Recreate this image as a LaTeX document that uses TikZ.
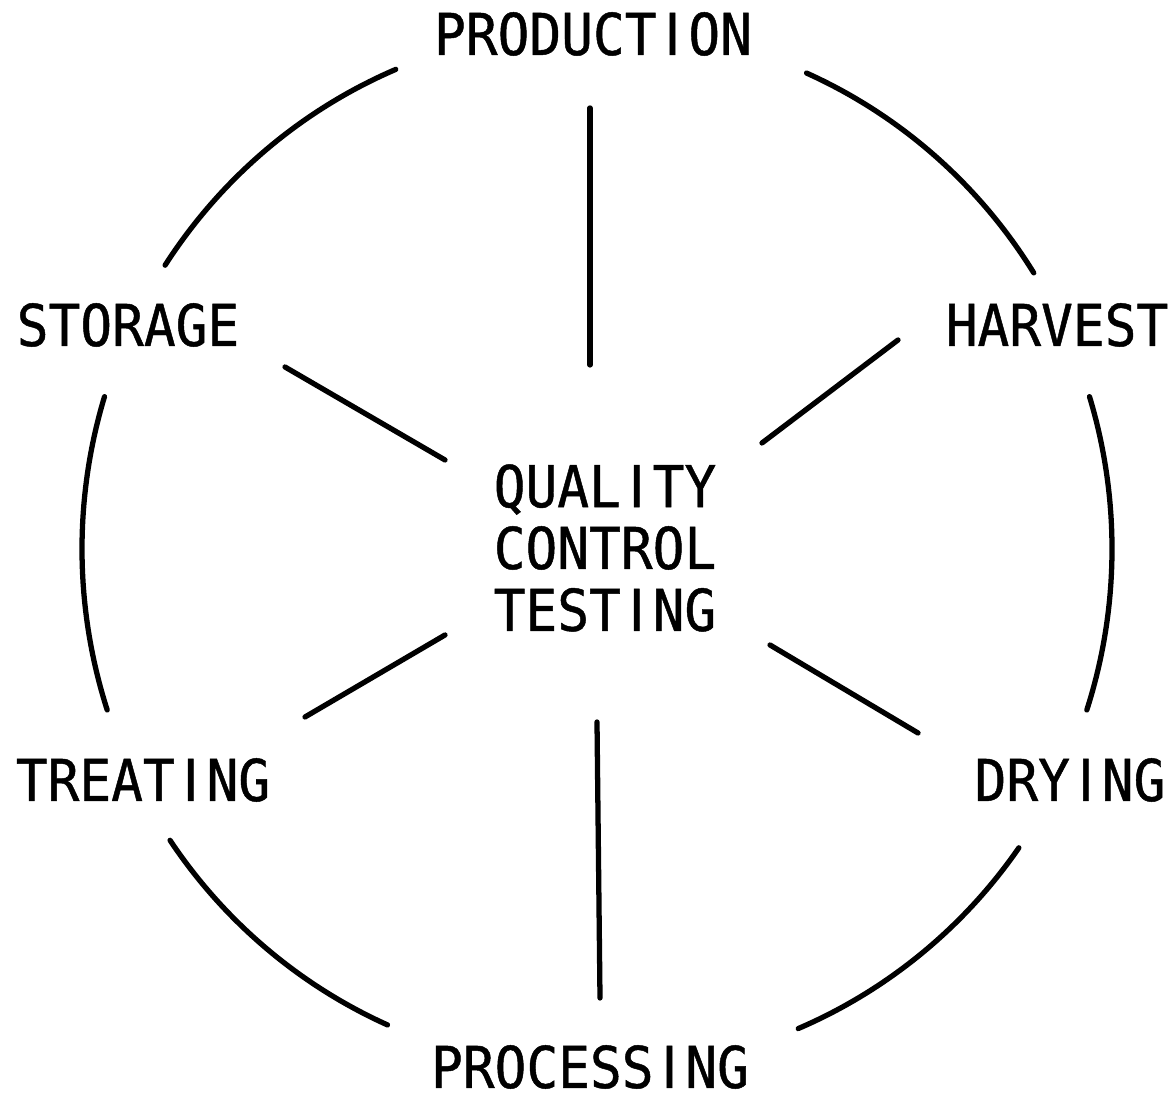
\documentclass[tikz,border=0pt]{standalone}
\usepackage{fontspec}
\newfontfamily\cyclefont[FakeStretch=0.916,FakeBold=0.8]{DejaVu Sans Mono}
\newfontfamily\barfont[FakeStretch=0.916,FakeBold=0.8]{DejaVu Sans}
\newcommand\barI{\makebox[\fontcharwd\font`M]{\barfont I}}
\begin{document}
\begin{tikzpicture}[
    stage/.style={font=\cyclefont\fontsize{16.4}{17.6}\selectfont, inner sep=0pt, align=center},
    rim/.style={line width=1.5pt, line cap=round}]
        \useasboundingbox (0,0) rectangle (11.75,10.98);
        \node[stage] (production) at (5.93,10.64) {PRODUCT\barI ON};
        \node[stage] (harvest) at (10.57,7.73) {HARVEST};
        \node[stage] (drying) at (10.70,3.18) {DRY\barI NG};
        \node[stage] (processing) at (5.90,0.31) {PROCESS\barI NG};
        \node[stage] (treating) at (1.43,3.18) {TREAT\barI NG};
        \node[stage] (storage) at (1.28,7.73) {STORAGE};
        \node[stage] (quality) at (6.05,5.50) {QUAL\barI TY\\CONTROL\\TEST\barI NG};
        \coordinate (hub) at (5.97,5.49);
        \coordinate (p1) at (5.90,9.90);
        \coordinate (q1) at (5.90,7.33);
        \coordinate (p2) at (8.98,7.58);
        \coordinate (q2) at (7.62,6.55);
        \coordinate (p3) at (9.18,3.65);
        \coordinate (q3) at (7.70,4.53);
        \coordinate (p4) at (6.00,1.00);
        \coordinate (q4) at (5.97,3.76);
        \coordinate (p5) at (3.05,3.81);
        \coordinate (q5) at (4.45,4.63);
        \coordinate (p6) at (2.85,7.31);
        \coordinate (q6) at (4.45,6.38);
        \draw[rim] (p1) -- (q1);
        \draw[rim] (p2) -- (q2);
        \draw[rim] (p3) -- (q3);
        \draw[rim] (p4) -- (q4);
        \draw[rim] (p5) -- (q5);
        \draw[rim] (p6) -- (q6);
        \draw[rim] ([shift={(66:5.15 and 5.21)}]hub) arc[start angle=66, end angle=32, x radius=5.15, y radius=5.21];
        \draw[rim] ([shift={(17:5.15 and 5.21)}]hub) arc[start angle=17, end angle=-18, x radius=5.15, y radius=5.21];
        \draw[rim] ([shift={(-35:5.15 and 5.21)}]hub) arc[start angle=-35, end angle=-67, x radius=5.15, y radius=5.21];
        \draw[rim] ([shift={(246:5.15 and 5.21)}]hub) arc[start angle=246, end angle=214, x radius=5.15, y radius=5.21];
        \draw[rim] ([shift={(198:5.15 and 5.21)}]hub) arc[start angle=198, end angle=163, x radius=5.15, y radius=5.21];
        \draw[rim] ([shift={(147:5.15 and 5.21)}]hub) arc[start angle=147, end angle=113, x radius=5.15, y radius=5.21];
    \end{tikzpicture}
\end{document}
